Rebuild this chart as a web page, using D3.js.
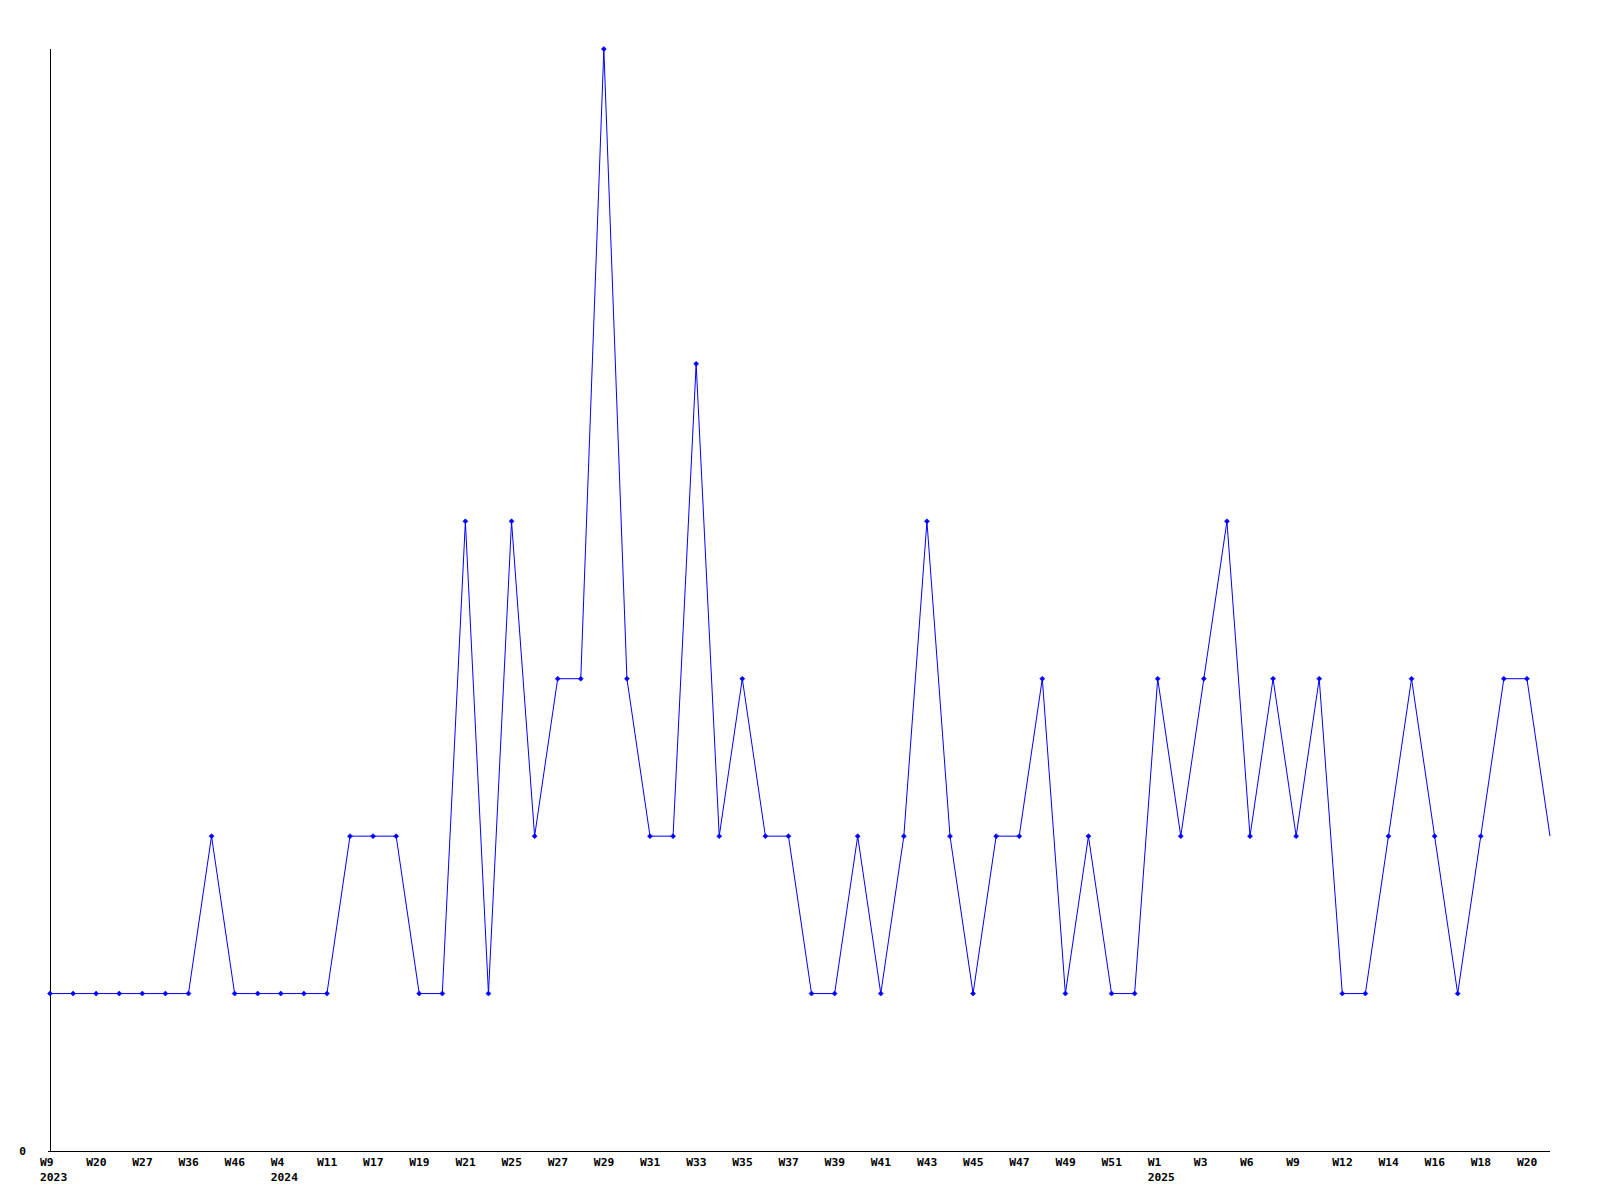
<!DOCTYPE html>
<html><head><meta charset="utf-8">
<script src="https://cdn.jsdelivr.net/npm/d3@7"></script>
<style>
html,body{margin:0;padding:0;background:#fff;}
svg{display:block;}
text{font-family:"DejaVu Sans Mono",monospace;font-weight:bold;font-size:11.3px;fill:#000;}
</style></head>
<body>
<script>
const tickLabels = ["W9","W20","W27","W36","W46","W4","W11","W17","W19","W21","W25","W27","W29","W31","W33","W35","W37","W39","W41","W43","W45","W47","W49","W51","W1","W3","W6","W9","W12","W14","W16","W18","W20"];
const yearLabels = {0:"2023",10:"2024",48:"2025"};
const values = [1,1,1,1,1,1,1,2,1,1,1,1,1,2,2,2,1,1,4,1,4,2,3,3,7,3,2,2,5,2,3,2,2,1,1,2,1,2,4,2,1,2,2,3,1,2,1,1,3,2,3,4,2,3,2,3,1,1,2,3,2,1,2,3,3,2];
const indices = values.map((d,i)=>i);

const W=1600,H=1200;
const svg=d3.select("body").append("svg").attr("width",W).attr("height",H);
const x=d3.scalePoint().domain(indices).range([50,1550]);
const y=d3.scaleLinear().domain([0,7]).range([1151,49]);

// axes
const xAxis=d3.axisBottom(x).tickValues(indices.filter(i=>i%2===0)).tickSize(0).tickFormat(i=>tickLabels[i/2]);
const gx=svg.append("g").attr("transform","translate(0,1151)").call(xAxis);
gx.select(".domain").attr("d","M47.5,0.5H1550").attr("stroke","#000").attr("shape-rendering","crispEdges");
gx.selectAll(".tick text").each(function(i){
  const t=d3.select(this);
  t.attr("y",14.5).attr("dy",null).attr("font-size",null).attr("font-family",null)
   .attr("text-anchor","start").attr("x",-10.5);
  if(yearLabels[i]!==undefined){
    d3.select(this.parentNode).append("text").attr("text-anchor","start").attr("x",-10.5).attr("y",29.5).text(yearLabels[i]);
  }
});

const yAxis=d3.axisLeft(y).tickValues([0]).tickSize(0).tickFormat(d3.format("d"));
const gy=svg.append("g").attr("transform","translate(50,0)").call(yAxis);
gy.select(".domain").attr("d","M0.5,49V1152").attr("stroke","#000").attr("shape-rendering","crispEdges");
gy.selectAll(".tick text").attr("x",-24).attr("dy","0.35em").attr("font-size",null).attr("font-family",null);

// line
const line=d3.line().x(i=>x(i)).y(i=>y(values[i]));
svg.append("path").datum(indices).attr("d",line).attr("fill","none").attr("stroke","#0000ff").attr("stroke-width",1);

// markers
svg.selectAll(".mk").data(indices.slice(0,-1)).enter().append("path").attr("class","mk")
  .attr("d",i=>{const cx=x(i),cy=y(values[i]);return `M${cx-2.5},${cy}L${cx},${cy-2.5}L${cx+2.5},${cy}L${cx},${cy+2.5}Z`;})
  .attr("fill","#0000ff").attr("stroke","#0000ff").attr("stroke-width",0.6);
</script>
</body></html>
